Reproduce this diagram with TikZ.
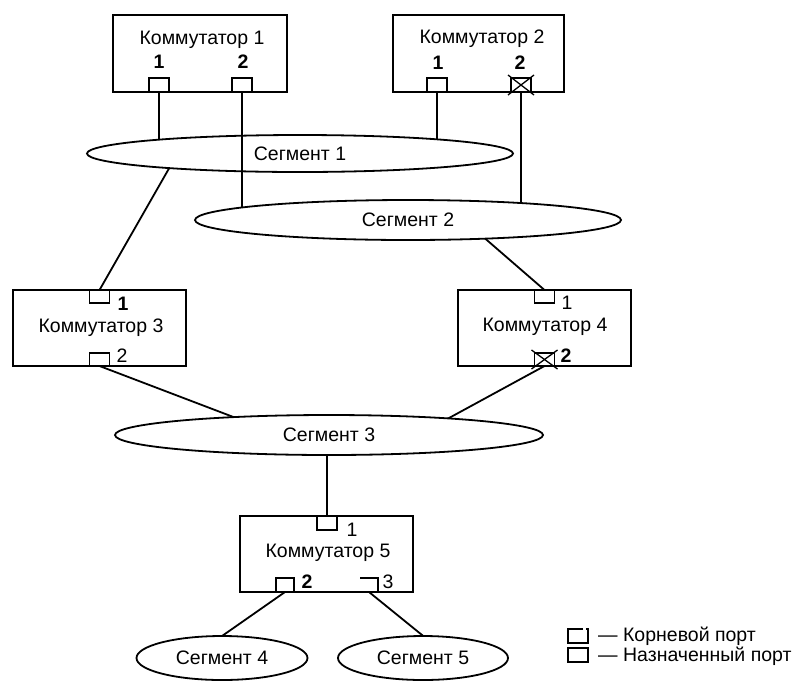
\documentclass[tikz,border=0pt]{standalone}
\usepackage{fontspec}
\setmainfont{Liberation Sans}
\usetikzlibrary{shapes.geometric}
\begin{document}
\begin{tikzpicture}[x=1pt,y=-1pt,
  ln/.style={line width=1.8pt},
  swbox/.style={draw, line width=1.8pt, minimum width=173pt, minimum height=77pt, inner sep=0pt, outer sep=0pt},
  port/.style={draw, line width=1.8pt, fill=white, minimum width=20pt, minimum height=14pt, inner sep=0pt, outer sep=0pt},
  portbr/.style={minimum width=18pt, minimum height=14pt, inner sep=0pt, outer sep=0pt},
  seg/.style={ellipse, draw, line width=1.8pt, fill=white, inner sep=0pt, outer sep=0pt, font=\fontsize{19.5}{23}\selectfont},
  lbl/.style={font=\fontsize{19.5}{23}\selectfont, inner sep=0pt},
  num/.style={font=\fontsize{19.5}{23}\selectfont, inner sep=0pt},
  bnum/.style={font=\fontsize{19.5}{23}\selectfont\bfseries, inner sep=0pt},
  ]
\useasboundingbox (0,0) rectangle (803,681);
% segment centres and inner end points of slanted connectors
\coordinate (s1c) at (300,153.5);
\coordinate (s2c) at (408,220);
\coordinate (s3c) at (329,435);
\coordinate (s4c) at (222,658);
\coordinate (s5c) at (423,658);
\coordinate (s1k3) at (175,158);
\coordinate (s2k4) at (469.5,225);
\coordinate (s3k3) at (267.5,430);
\coordinate (s3k4) at (427,430);
\coordinate (s4k5) at (202,650);
\coordinate (s5k5) at (440.5,650);

% Switch 1
\node[swbox, minimum width=174pt] (k1) at (200,53.5) {};
\node[lbl] (k1t) at (202,40) {Коммутатор 1};
\node[port] (k1p1) at (159,85) {};
\node[port] (k1p2) at (242,85) {};
\node[bnum] (k1n1) at (159,62) {1};
\node[bnum] (k1n2) at (243,62) {2};
% Switch 2
\node[swbox, minimum width=171pt] (k2) at (478.5,53.5) {};
\node[lbl] (k2t) at (482,39) {Коммутатор 2};
\node[port] (k2p1) at (437,85) {};
\node[port] (k2p2) at (521,85) {};
\node[bnum] (k2n1) at (438,63) {1};
\node[bnum] (k2n2) at (520,63) {2};
% Switch 3
\node[swbox, minimum height=76pt] (k3) at (99.5,328) {};
\node[lbl] (k3t) at (101,328) {Коммутатор 3};
\node[port, minimum height=13pt] (k3p1) at (99.5,296.5) {};
\node[port, minimum height=13pt] (k3p2) at (99.5,359.5) {};
\node[bnum] (k3n1) at (123,304) {1};
\node[num] (k3n2) at (122,356) {2};
% Switch 4
\node[swbox, minimum height=76pt] (k4) at (544.5,328) {};
\node[lbl] (k4t) at (545,327) {Коммутатор 4};
\node[port, minimum height=13pt] (k4p1) at (544.5,296.5) {};
\node[port, minimum height=13pt] (k4p2) at (544.5,359.5) {};
\node[num] (k4n1) at (567,303) {1};
\node[bnum] (k4n2) at (566,356) {2};
% Switch 5
\node[swbox, minimum height=76pt] (k5) at (326.5,554) {};
\node[lbl] (k5t) at (328,553) {Коммутатор 5};
\node[port] (k5p1) at (327,523) {};
\node[port, minimum width=18pt] (k5p2) at (285,585) {};
\node[portbr] (k5p3) at (369,585) {};
\draw[ln] (k5p3.north west) -- (k5p3.north east) -- (k5p3.south east);
\node[num] (k5n1) at (352,530) {1};
\node[bnum] (k5n2) at (307,582) {2};
\node[num] (k5n3) at (388,582) {3};

% connectors to segment 1
\draw[ln] (k1p1.south) -- (k1p1.south |- s1c);
\draw[ln] (k2p1.south) -- (k2p1.south |- s1c);
\draw[ln] (k3p1.north) -- (s1k3);
\node[seg, minimum width=426pt, minimum height=37pt] (s1) at (s1c) {Сегмент 1};
% connectors to segment 2
\draw[ln] (k1p2.south) -- (k1p2.south |- s2c);
\draw[ln] (k2p2.south) -- (k2p2.south |- s2c);
\draw[ln] (k4p1.north) -- (s2k4);
\node[seg, minimum width=426pt, minimum height=40pt] (s2) at (s2c) {Сегмент 2};
% connectors to segment 3
\draw[ln] (k3p2.south) -- (s3k3);
\draw[ln] (k4p2.south) -- (s3k4);
\draw[ln] (k5p1.north) -- (k5p1.north |- s3c);
\node[seg, minimum width=428pt, minimum height=40pt] (s3) at (s3c) {Сегмент 3};
% connectors to segments 4 and 5
\draw[ln] (k5p2.south) -- (s4k5);
\draw[ln] (k5p3.south) -- (s5k5);
\node[seg, minimum width=171pt, minimum height=44pt] (s4) at (s4c) {Сегмент 4};
\node[seg, minimum width=170pt, minimum height=44pt] (s5) at (s5c) {Сегмент 5};

% blocked ports
\draw[line width=1.3pt] ([shift={(-3,-3)}]k2p2.north west) -- ([shift={(3,3)}]k2p2.south east);
\draw[line width=1.3pt] ([shift={(3,-3)}]k2p2.north east) -- ([shift={(-3,3)}]k2p2.south west);
\draw[line width=1.3pt] ([shift={(-3,-3)}]k4p2.north west) -- ([shift={(3,3)}]k4p2.south east);
\draw[line width=1.3pt] ([shift={(3,-3)}]k4p2.north east) -- ([shift={(-3,3)}]k4p2.south west);

% legend
\draw[ln] (583,629) -- (568,629) -- (568,643) -- (588,643) -- (588,629) -- (586,629);
\node[lbl, anchor=west] (legr) at (598,636) {— Корневой порт};
\node[port] (legd) at (578,655) {};
\node[lbl, anchor=west] (legdt) at (598,656) {— Назначенный порт};
\end{tikzpicture}
\end{document}
